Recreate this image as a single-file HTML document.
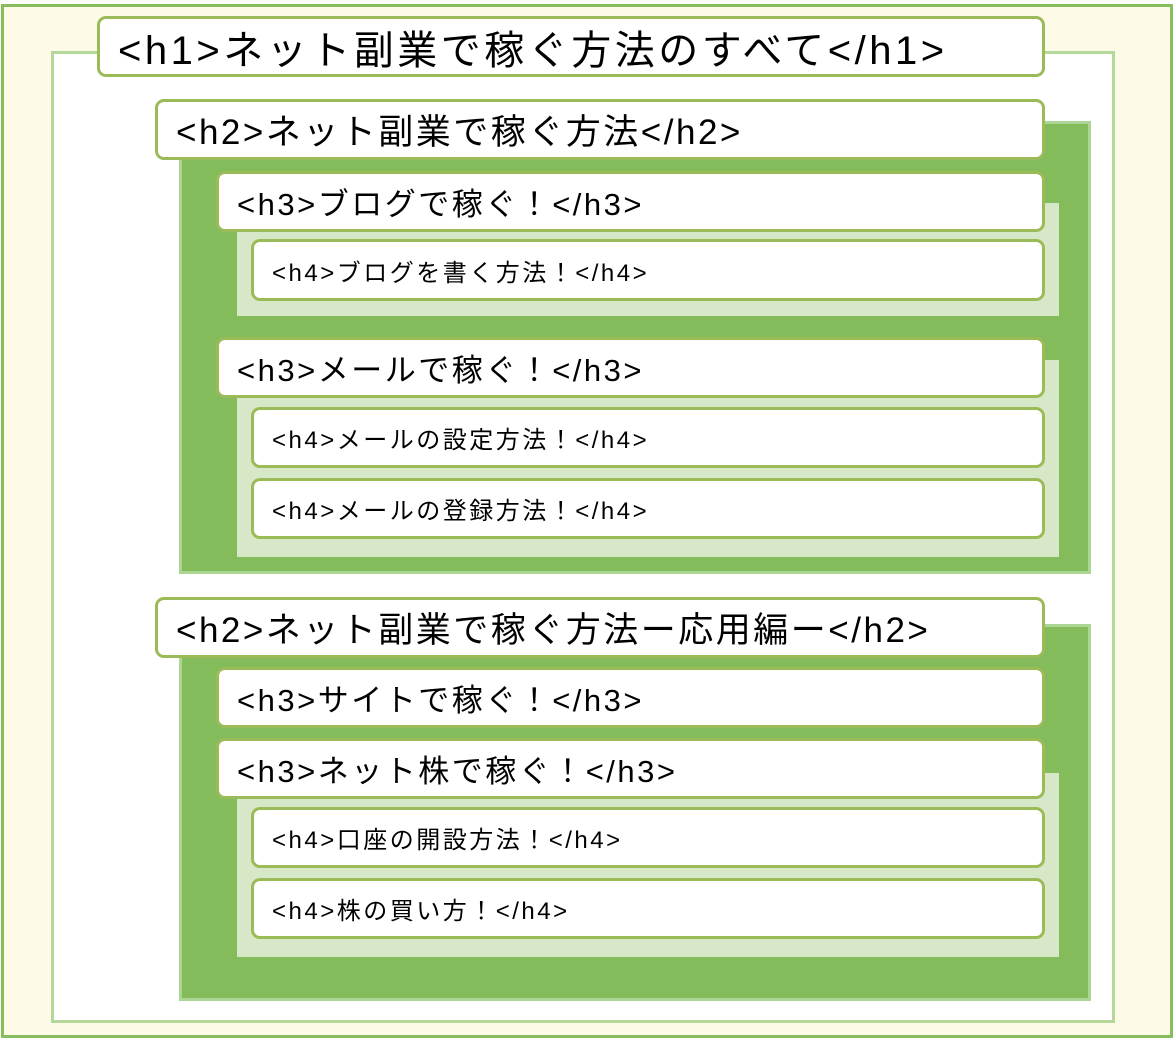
<!DOCTYPE html>
<html><head><meta charset="utf-8"><style>
body{margin:0;width:1175px;height:1040px;background:#fff;position:relative;overflow:hidden;font-family:"Liberation Sans","Noto Sans CJK JP",sans-serif;}
div{position:absolute;box-sizing:border-box;}
.box{background:#fff;border:3px solid #9bbb59;border-radius:9px;color:#000;white-space:nowrap;display:flex;align-items:center;}
.g{background:#84bc5c;border:3px solid #acd694;}
.l{background:#d6e8c8;}
.b1{font-size:40px;letter-spacing:3.5px;}
.b2{font-size:35px;letter-spacing:2.5px;}
.b3{font-size:31px;letter-spacing:2.5px;}
.b4{font-size:24px;letter-spacing:2.5px;}
</style></head><body>
<div style="left:1px;top:4px;width:1172px;height:1034px;background:#fefae8;border:3px solid #87bd5c;"></div>
<div style="left:51px;top:51px;width:1064px;height:972px;background:#fff;border:3px solid #b3d89a;"></div>
<div class="box b1" style="left:97px;top:16px;width:948px;height:61px;padding-left:18px;">&lt;h1&gt;ネット副業で稼ぐ方法のすべて&lt;/h1&gt;</div>

<div class="g" style="left:179px;top:121px;width:912px;height:453px;"></div>
<div class="box b2" style="left:155px;top:99px;width:890px;height:61px;padding-left:18px;">&lt;h2&gt;ネット副業で稼ぐ方法&lt;/h2&gt;</div>
<div class="l" style="left:237px;top:203px;width:822px;height:113px;"></div>
<div class="box b3" style="left:216px;top:171px;width:829px;height:61px;padding-left:18px;">&lt;h3&gt;ブログで稼ぐ！&lt;/h3&gt;</div>
<div class="box b4" style="left:251px;top:239px;width:794px;height:62px;padding-left:18px;">&lt;h4&gt;ブログを書く方法！&lt;/h4&gt;</div>
<div class="l" style="left:237px;top:360px;width:822px;height:197px;"></div>
<div class="box b3" style="left:216px;top:337px;width:829px;height:61px;padding-left:18px;">&lt;h3&gt;メールで稼ぐ！&lt;/h3&gt;</div>
<div class="box b4" style="left:251px;top:407px;width:794px;height:61px;padding-left:18px;">&lt;h4&gt;メールの設定方法！&lt;/h4&gt;</div>
<div class="box b4" style="left:251px;top:478px;width:794px;height:61px;padding-left:18px;">&lt;h4&gt;メールの登録方法！&lt;/h4&gt;</div>

<div class="g" style="left:179px;top:624px;width:912px;height:377px;"></div>
<div class="box b2" style="left:155px;top:597px;width:890px;height:61px;padding-left:18px;">&lt;h2&gt;ネット副業で稼ぐ方法ー応用編ー&lt;/h2&gt;</div>
<div class="box b3" style="left:216px;top:667px;width:829px;height:61px;padding-left:18px;">&lt;h3&gt;サイトで稼ぐ！&lt;/h3&gt;</div>
<div class="l" style="left:237px;top:773px;width:822px;height:184px;"></div>
<div class="box b3" style="left:216px;top:738px;width:829px;height:61px;padding-left:18px;">&lt;h3&gt;ネット株で稼ぐ！&lt;/h3&gt;</div>
<div class="box b4" style="left:251px;top:807px;width:794px;height:61px;padding-left:18px;">&lt;h4&gt;口座の開設方法！&lt;/h4&gt;</div>
<div class="box b4" style="left:251px;top:878px;width:794px;height:61px;padding-left:18px;">&lt;h4&gt;株の買い方！&lt;/h4&gt;</div>
</body></html>
